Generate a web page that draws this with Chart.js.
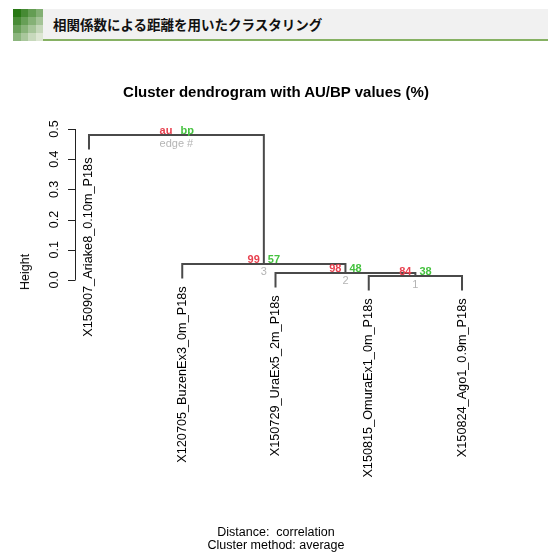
<!DOCTYPE html>
<html>
<head>
<meta charset="utf-8">
<script src="https://cdn.jsdelivr.net/npm/chart.js@4/dist/chart.umd.min.js"></script>
<style>
  html, body { margin: 0; padding: 0; background: #ffffff; }
  #wrap { position: relative; width: 548px; height: 555px; overflow: hidden; }
  #plot { position: absolute; left: 0; top: 0; }
  .txt { position: absolute; font-family: "Liberation Sans", Arial, sans-serif; color: #000; white-space: nowrap; }
  #hdr { position: absolute; left: 13px; top: 9px; width: 535px; height: 30px; background: #f1f1f1; border-bottom: 2px solid #86b163; }
  #hdrText { position: absolute; left: 40px; top: 6px; font-family: "Noto Sans CJK JP", sans-serif; font-weight: bold; font-size: 13.5px; line-height: 18px; color: #111; }
  #blocks { position: absolute; left: 0; top: 0; width: 30px; height: 32px; display: grid; grid-template-columns: repeat(4, 1fr); grid-template-rows: repeat(4, 1fr); }
</style>
</head>
<body>
<div id="wrap">
  <canvas id="plot" width="548" height="555"></canvas>
  <div id="hdr">
    <div id="blocks"></div>
    <div id="hdrText">相関係数による距離を用いたクラスタリング</div>
  </div>
  <div class="txt" id="title" style="left:0; width:552px; text-align:center; top:83px; font-size:15px; font-weight:bold;">Cluster dendrogram with AU/BP values (%)</div>
  <div class="txt" id="ylab" style="left:25px; top:272px; font-size:12.5px; transform: translate(-50%, -50%) rotate(-90deg);">Height</div>
  <div class="txt" style="left:0; width:552px; text-align:center; top:526px; font-size:12.5px; line-height:13px;">Distance:&nbsp; correlation<br>Cluster method: average</div>
</div>
<script>
// Leaves in plotting order
const leafLabels = [
  'X150907_Ariake8_0.10m_P18s',
  'X120705_BuzenEx3_0m_P18s',
  'X150729_UraEx5_2m_P18s',
  'X150815_OmuraEx1_0m_P18s',
  'X150824_Ago1_0.9m_P18s'
];
// hclust-style merge table: negative = leaf number, positive = earlier merge
const mergeLeft  = [-4, -3, -2, -1];
const mergeRight = [-5,  1,  2,  3];
const mergeHeights = [0.013, 0.023, 0.053, 0.480];
// pvclust values for edges 1..3 (root carries the legend)
const auValues = [84, 98, 99];
const bpValues = [38, 48, 57];
const edgeNumbers = [1, 2, 3];
const yTicks = [0.0, 0.1, 0.2, 0.3, 0.4, 0.5];
const hang = 0.1;

// little green gradient squares in the page header
(function () {
  const box = document.getElementById('blocks');
  for (let r = 0; r < 4; r++) {
    for (let c = 0; c < 4; c++) {
      const d = document.createElement('div');
      const k = Math.min(1, (r * 1.1 + c) / 6);
      const g = [Math.round(40 + k * 180), Math.round(120 + k * 110), Math.round(20 + k * 190)];
      d.style.background = 'rgb(' + g.join(',') + ')';
      box.appendChild(d);
    }
  }
})();

// Build dendrogram branch paths from the merge table
const hangSize = hang * Math.max(...mergeHeights);
const mergeX = [];
function nodeX(id) { return id < 0 ? -id : mergeX[id - 1]; }
const branchSets = [];
for (let i = 0; i < mergeHeights.length; i++) {
  const L = mergeLeft[i], R = mergeRight[i], h = mergeHeights[i];
  const lx = nodeX(L), rx = nodeX(R);
  mergeX.push((lx + rx) / 2);
  const lb = L < 0 ? h - hangSize : mergeHeights[L - 1];
  const rb = R < 0 ? h - hangSize : mergeHeights[R - 1];
  branchSets.push({
    data: [{ x: lx, y: lb }, { x: lx, y: h }, { x: rx, y: h }, { x: rx, y: rb }],
    showLine: true,
    borderColor: '#4a4a4a',
    borderWidth: 2,
    pointRadius: 0,
    tension: 0,
    fill: false
  });
}
// bottom of each leaf branch
const leafBottom = {};
for (let i = 0; i < mergeHeights.length; i++) {
  [mergeLeft[i], mergeRight[i]].forEach(id => {
    if (id < 0) leafBottom[-id] = mergeHeights[i] - hangSize;
  });
}

const FONT = '"Liberation Sans", Arial, sans-serif';

const dendroDecor = {
  id: 'dendroDecor',
  afterDraw(chart) {
    const ctx = chart.ctx;
    const xs = chart.scales.x, ys = chart.scales.y;
    const left = chart.chartArea.left;
    ctx.save();

    // left axis, R style
    ctx.strokeStyle = '#222';
    ctx.lineWidth = 1;
    ctx.beginPath();
    ctx.moveTo(left + 0.5, ys.getPixelForValue(yTicks[0]));
    ctx.lineTo(left + 0.5, ys.getPixelForValue(yTicks[yTicks.length - 1]));
    yTicks.forEach(t => {
      const py = Math.round(ys.getPixelForValue(t)) + 0.5;
      ctx.moveTo(left - 7, py);
      ctx.lineTo(left + 0.5, py);
    });
    ctx.stroke();
    ctx.fillStyle = '#000';
    ctx.font = '12.5px ' + FONT;
    ctx.textAlign = 'center';
    ctx.textBaseline = 'middle';
    yTicks.forEach(t => {
      ctx.save();
      ctx.translate(left - 20, ys.getPixelForValue(t));
      ctx.rotate(-Math.PI / 2);
      ctx.fillText(t.toFixed(1), 0, 0);
      ctx.restore();
    });

    // leaf labels, hanging below each leaf
    ctx.font = '12.7px ' + FONT;
    ctx.textAlign = 'right';
    ctx.textBaseline = 'middle';
    leafLabels.forEach((lab, i) => {
      const px = xs.getPixelForValue(i + 1);
      const py = ys.getPixelForValue(leafBottom[i + 1]) + 8;
      ctx.save();
      ctx.translate(px, py);
      ctx.rotate(-Math.PI / 2);
      ctx.fillText(lab, 0, 0);
      ctx.restore();
    });

    // au / bp / edge numbers
    ctx.font = 'bold 11px ' + FONT;
    for (let i = 0; i < mergeHeights.length; i++) {
      const cx = xs.getPixelForValue(mergeX[i]);
      const cy = ys.getPixelForValue(mergeHeights[i]);
      const isRoot = i === mergeHeights.length - 1;
      const au = isRoot ? 'au' : String(auValues[i]);
      const bp = isRoot ? 'bp' : String(bpValues[i]);
      const ed = isRoot ? 'edge #' : String(edgeNumbers[i]);
      ctx.textBaseline = 'alphabetic';
      ctx.fillStyle = '#e8414f';
      ctx.textAlign = 'right';
      ctx.fillText(au, cx - 4, cy - 1);
      ctx.fillStyle = '#45c23f';
      ctx.textAlign = 'left';
      ctx.fillText(bp, cx + 4, cy - 1);
      ctx.font = '11px ' + FONT;
      ctx.fillStyle = '#b4b4b4';
      ctx.textAlign = 'center';
      ctx.textBaseline = 'top';
      ctx.fillText(ed, cx, cy + 3);
      ctx.font = 'bold 11px ' + FONT;
    }
    ctx.restore();
  }
};

new Chart(document.getElementById('plot'), {
  type: 'scatter',
  data: { datasets: branchSets },
  options: {
    responsive: false,
    animation: false,
    devicePixelRatio: 1,
    layout: { padding: { left: 75, right: 72, top: 129, bottom: 260 } },
    plugins: { legend: { display: false }, tooltip: { enabled: false }, title: { display: false } },
    scales: {
      x: { type: 'linear', min: 0.85, max: 5.15, display: false },
      y: { type: 'linear', min: -0.05, max: 0.5, display: false }
    },
    elements: { line: { borderCapStyle: 'butt', borderJoinStyle: 'miter' } }
  },
  plugins: [dendroDecor]
});
</script>
</body>
</html>
